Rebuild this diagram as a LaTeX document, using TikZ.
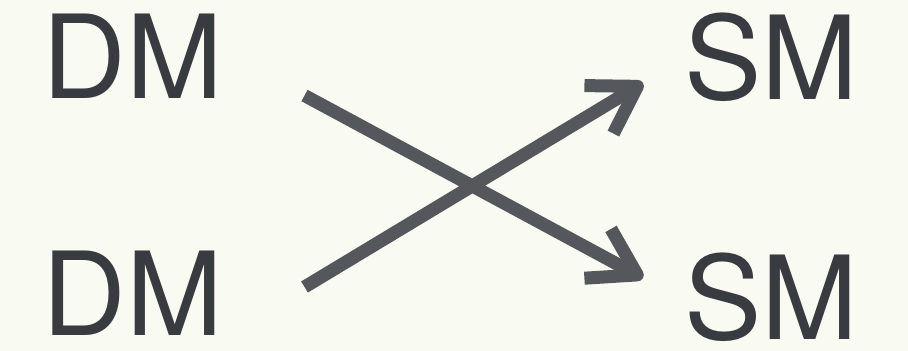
\documentclass[tikz,border=0pt]{standalone}
\usepackage{fontspec}
\setmainfont{TeX Gyre Heros}
\usetikzlibrary{arrows.meta}
\definecolor{PaperBG}{RGB}{249,250,241}
\definecolor{InkGray}{RGB}{56,59,64}
\definecolor{ArrowGray}{RGB}{84,87,92}

\begin{document}
\begin{tikzpicture}[x=0.02cm,y=-0.02cm,
  word/.style={anchor=base west,inner sep=0pt,text=InkGray,
    font=\fontsize{66}{70}\selectfont},
  crossarrow/.style={draw=ArrowGray,line width=0.26cm,
    -{Straight Barb[length=0.9cm,width=1.12cm,line cap=butt,line join=round]}}]
  \fill[PaperBG] (0,0) rectangle (908,351);
  % labels
  \node[word] (dmtop) at (42,99) {DM};
  \node[word] (dmbot) at (42,335) {DM};
  \node[word] (smtop) at (684,100) {SM};
  \node[word] (smbot) at (684,339) {SM};
  % arrow ends
  \coordinate (dmtop-out) at (304.5,95.5);
  \coordinate (dmbot-out) at (304.5,287);
  \coordinate (smtop-in) at (643,83);
  \coordinate (smbot-in) at (643,278);
  \draw[crossarrow] (dmtop-out) -- (smbot-in);
  \draw[crossarrow] (dmbot-out) -- (smtop-in);
\end{tikzpicture}
\end{document}
